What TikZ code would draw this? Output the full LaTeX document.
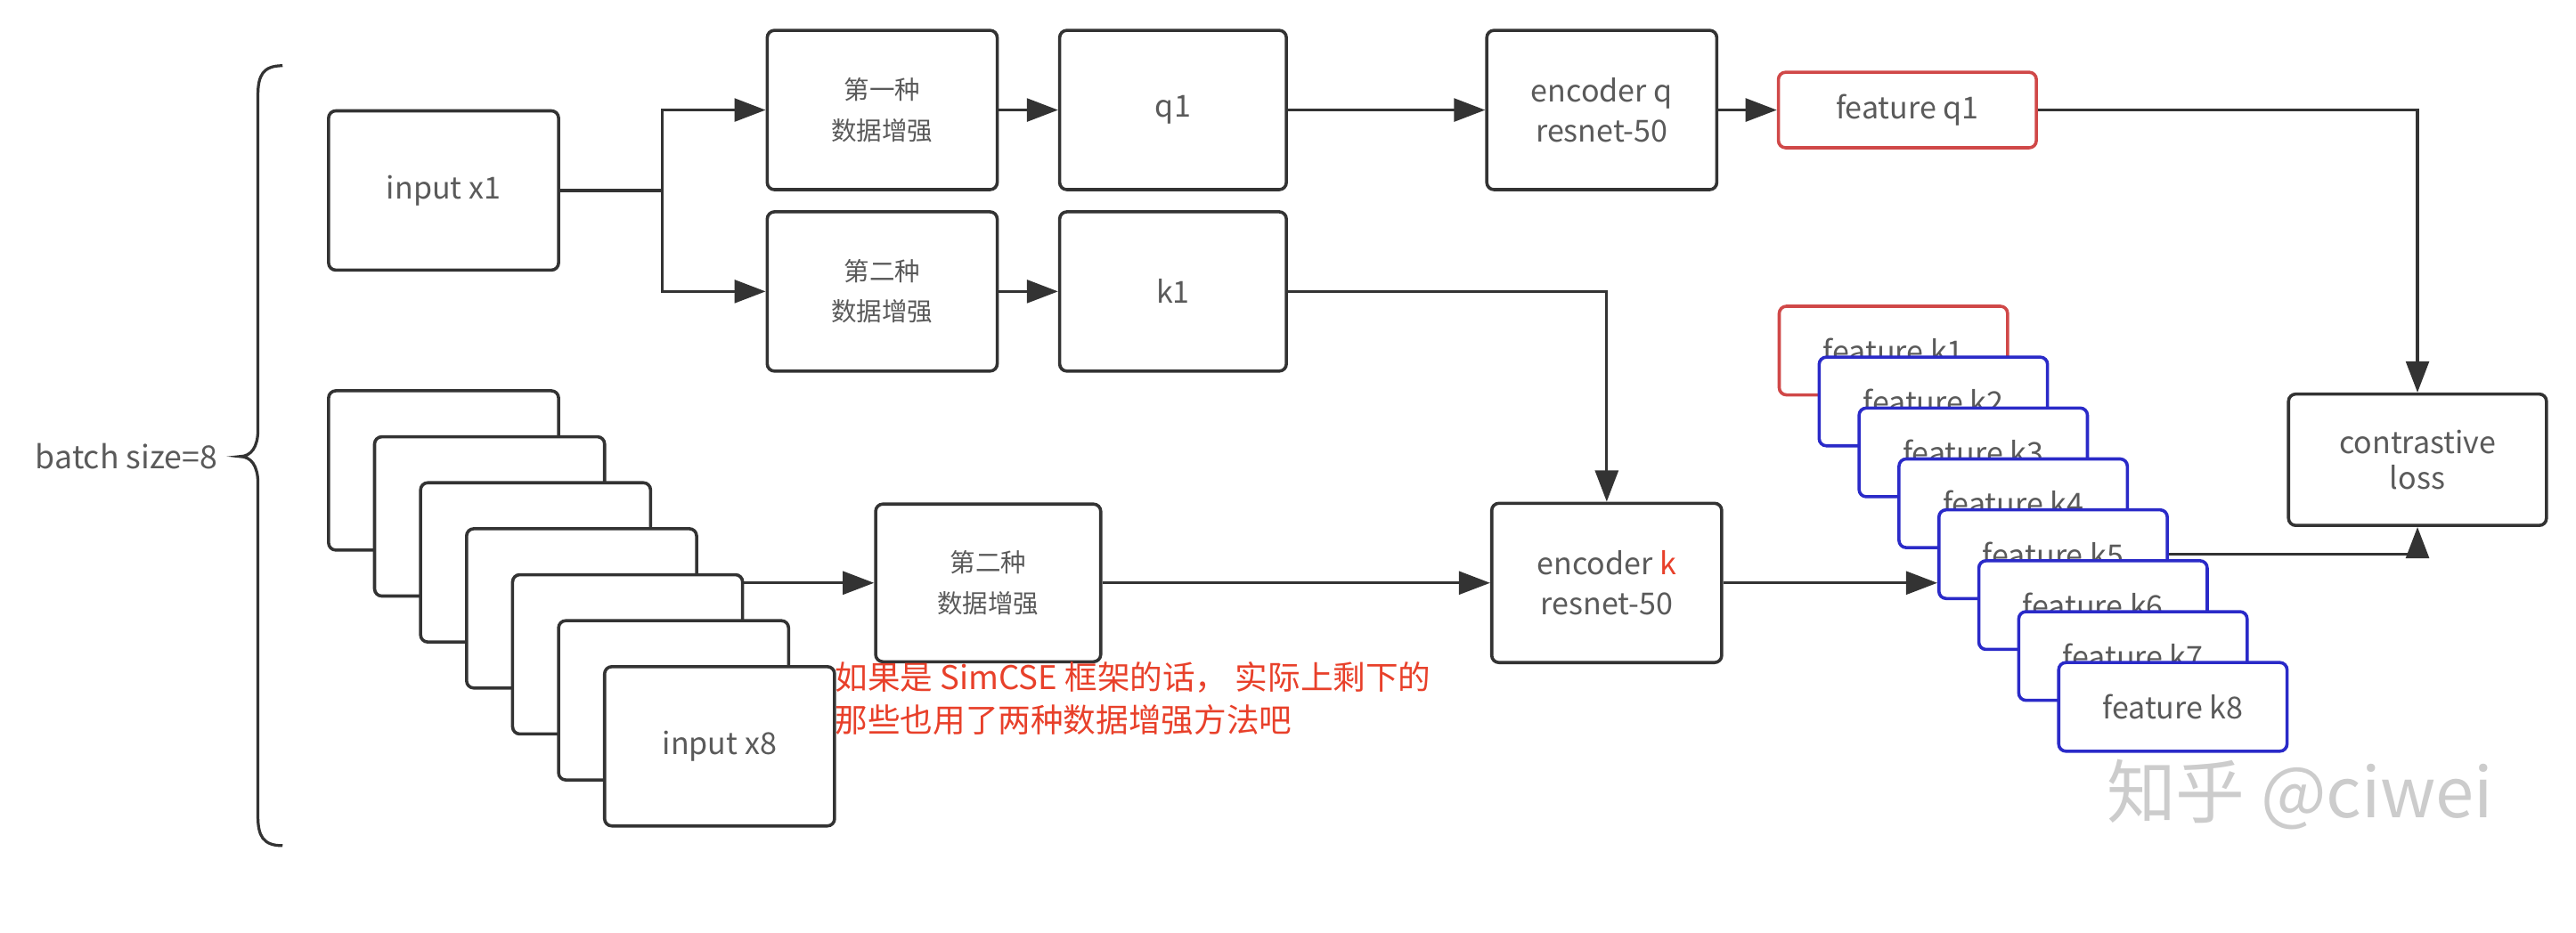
\documentclass[tikz,border=0pt]{standalone}
\usepackage{fontspec}
\setmainfont{Noto Sans CJK SC}
\usetikzlibrary{arrows.meta}
\definecolor{boxline}{HTML}{333333}
\definecolor{txtgray}{HTML}{5A5A5A}
\definecolor{featred}{HTML}{D04848}
\definecolor{featblue}{HTML}{2A2AC8}
\definecolor{notered}{HTML}{E8402A}

\begin{document}
\begin{tikzpicture}[x=0.2mm,y=-0.2mm,
  box/.style={draw=boxline,line width=1.1pt,rounded corners=2.5pt,fill=white,text=txtgray,
    align=center,inner sep=0pt,font=\fontsize{10.5}{14}\selectfont},
  bigbox/.style={box,minimum width=28mm,minimum height=19.4mm},
  feat/.style={box,minimum width=27.8mm,minimum height=10.8mm},
  cjk/.style={font=\fontsize{8.8}{14}\selectfont},
  conn/.style={draw=boxline,line width=1pt},
  arr/.style={conn,-{Triangle[length=3.8mm,width=2.8mm]}}]

\useasboundingbox (0,0) rectangle (1568,568);

% batch brace
\draw[boxline,line width=1pt] (172,40) .. controls (160,40) and (157,46) .. (157,58) -- (157,262)
  .. controls (157,272) and (153,278) .. (146,278) .. controls (153,278) and (157,284) .. (157,294)
  -- (157,497) .. controls (157,509) and (160,515) .. (172,515);
\node[text=txtgray,font=\fontsize{11}{14}\selectfont] (batch) at (77,278) {batch size=8};

% first sample, two views
\node[bigbox] (inx1) at (270,116) {input x1};
\node[bigbox,cjk] (aug1) at (537,67) {第一种\\数据增强};
\node[bigbox,minimum width=27.6mm] (q1) at (714,67) {q1};
\node[bigbox,cjk] (aug2) at (537,177.5) {第二种\\数据增强};
\node[bigbox,minimum width=27.6mm] (k1) at (714,177.5) {k1};
\node[bigbox] (encq) at (975,67) {encoder q\\resnet-50};
\node[box,draw=featred,minimum width=31.4mm,minimum height=9.2mm] (featq1) at (1161,67) {feature q1};

% the other samples of the batch
\foreach \n [count=\j from 0] in {2,...,7}
  \node[bigbox] (inp\n) at ({270+28*\j},{286.5+28*\j}) {};
\node[bigbox] (inp8) at (438,454.5) {input x8};
\node[bigbox,cjk,minimum width=27.4mm,minimum height=19.2mm] (aug3) at (601.5,355) {第二种\\数据增强};
\node[bigbox] (enck) at (978,355) {encoder {\color{notered}k}\\resnet-50};

% key features
\foreach \i/\c in {1/featred,2/featblue,3/featblue,4/featblue,5/featblue,6/featblue,7/featblue,8/featblue}
  \node[feat,draw=\c] (fk\i) at ({1152.5+24.3*(\i-1)},{213.5+31*(\i-1)}) {feature k\i};

\node[box,minimum width=31.4mm,minimum height=16mm,font=\fontsize{10.5}{12.5}\selectfont] (loss) at (1471.5,280) {contrastive\\loss};

% connectors
\coordinate (split) at (403,116);
\draw[conn] (inx1.east) -- (split);
\draw[arr] (split) |- (aug1.west);
\draw[arr] (split) |- (aug2.west);
\draw[arr] (aug1) -- (q1);
\draw[arr] (aug2) -- (k1);
\draw[arr] (q1) -- (encq);
\draw[arr] (encq) -- (featq1);
\draw[arr] (featq1.east) -| (loss.north);
\draw[arr] (k1.east) -| (enck.north);
\draw[arr] (inp6.east |- aug3.west) -- (aug3.west);
\draw[arr] (aug3) -- (enck);
\draw[arr] (enck.east) -- (enck.east -| fk5.west);
\draw[arr] (fk5.east) -| (loss.south);

% note
\node[anchor=north west,text=notered,align=left,inner sep=0pt,font=\fontsize{11.3}{14.8}\selectfont] (note) at (508,403)
  {如果是 SimCSE 框架的话， 实际上剩下的\\那些也用了两种数据增强方法吧};

% watermark
\node[text=black!20,font=\fontsize{24}{24}\selectfont] (mark) at (1400,484) {知乎 @ciwei};

\end{tikzpicture}
\end{document}
